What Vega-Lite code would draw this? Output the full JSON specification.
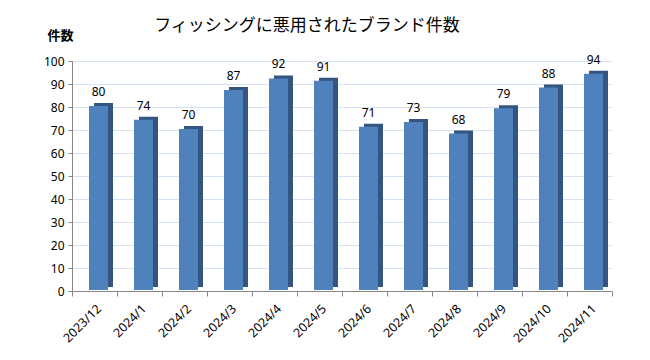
{
  "$schema": "https://vega.github.io/schema/vega-lite/v6.json",
  "autosize": "none",
  "width": 540,
  "height": 230,
  "padding": {"left": 72, "top": 61, "right": 38, "bottom": 69},
  "background": "white",
  "title": {
    "text": "フィッシングに悪用されたブランド件数",
    "font": "Noto Sans CJK JP",
    "fontSize": 17,
    "fontWeight": "normal",
    "color": "black",
    "anchor": "middle",
    "dx": -35,
    "offset": -6
  },
  "data": {
    "values": [
      {"month": "2023/12", "count": 80},
      {"month": "2024/1", "count": 74},
      {"month": "2024/2", "count": 70},
      {"month": "2024/3", "count": 87},
      {"month": "2024/4", "count": 92},
      {"month": "2024/5", "count": 91},
      {"month": "2024/6", "count": 71},
      {"month": "2024/7", "count": 73},
      {"month": "2024/8", "count": 68},
      {"month": "2024/9", "count": 79},
      {"month": "2024/10", "count": 88},
      {"month": "2024/11", "count": 94}
    ]
  },
  "encoding": {
    "x": {
      "field": "month",
      "type": "nominal",
      "sort": null,
      "scale": {"paddingInner": 0, "paddingOuter": 0},
      "axis": {
        "title": null,
        "labelAngle": -45,
        "labelFont": "Noto Sans",
        "labelFontSize": 12.5,
        "labelColor": "black",
        "labelPadding": 6,
        "domainColor": "#868686",
        "tickColor": "#868686",
        "tickBand": "extent",
        "tickSize": 5,
        "grid": false
      }
    },
    "y": {
      "field": "count",
      "type": "quantitative",
      "scale": {"domain": [0, 100]},
      "axis": {
        "title": "件数",
        "titleAngle": 0,
        "titleFont": "Noto Sans CJK JP",
        "titleFontSize": 13,
        "titleFontWeight": "bold",
        "titleColor": "black",
        "titleX": -12,
        "titleY": -26,
        "titleAlign": "center",
        "titleBaseline": "middle",
        "values": [0, 10, 20, 30, 40, 50, 60, 70, 80, 90, 100],
        "labelFont": "Noto Sans",
        "labelFontSize": 12,
        "labelColor": "black",
        "labelPadding": 4,
        "domainColor": "#868686",
        "tickColor": "#868686",
        "tickSize": 4,
        "gridColor": "#D5E2F3",
        "gridWidth": 1
      }
    }
  },
  "layer": [
    {
      "mark": {"type": "bar", "width": 19, "color": "#34557F", "xOffset": 9, "yOffset": -4},
      "encoding": {}
    },
    {
      "mark": {"type": "bar", "width": 19, "color": "#4F81BD", "xOffset": 4, "yOffset": -1},
      "encoding": {}
    },
    {
      "mark": {"type": "text", "font": "Noto Sans", "fontSize": 12, "color": "black", "baseline": "bottom", "xOffset": 4, "dy": -8},
      "encoding": {"text": {"field": "count", "type": "quantitative"}}
    }
  ],
  "config": {"view": {"stroke": null}}
}
